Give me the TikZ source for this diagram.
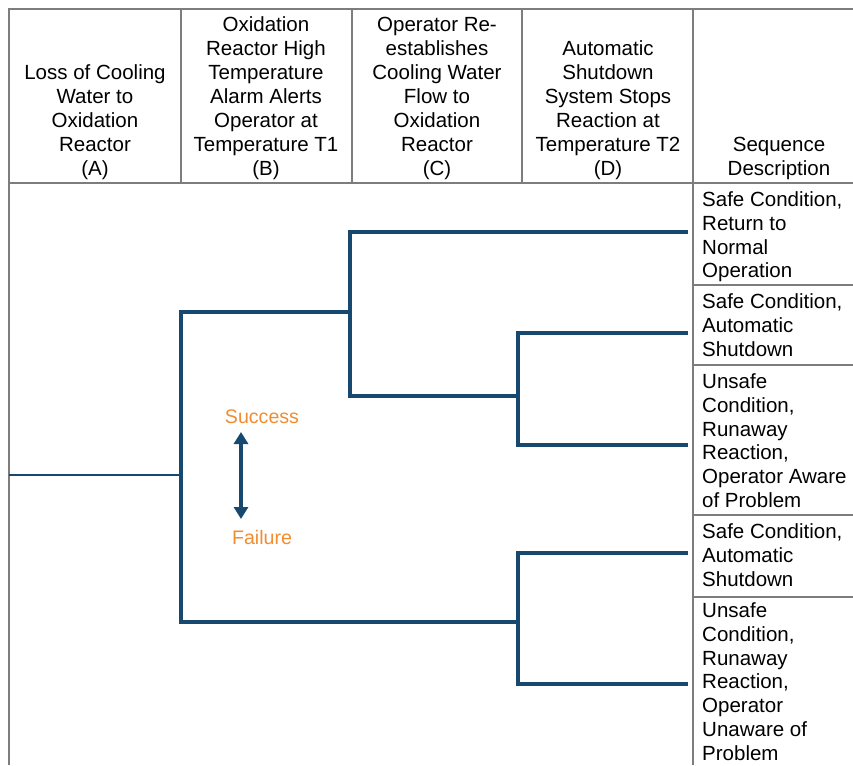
\documentclass[tikz,border=0pt]{standalone}
\usepackage{fontspec}
\setmainfont{Liberation Sans}
\usetikzlibrary{arrows.meta}

\definecolor{treeblue}{RGB}{22,72,112}
\definecolor{labelorange}{RGB}{242,140,48}
\definecolor{gridgray}{RGB}{125,125,125}

\begin{document}
\begin{tikzpicture}[x=1pt,y=-1pt,
    grid/.style={draw=gridgray,line width=1.3pt},
    branch/.style={draw=treeblue,line width=3.3pt,line join=miter},
    head/.style={anchor=south,align=center,inner sep=0pt,font=\fontsize{20.5}{23.9}\selectfont},
    seq/.style={anchor=north west,align=left,inner sep=0pt,font=\fontsize{20.5}{23.8}\selectfont},
    mark label/.style={inner sep=0pt,text=labelorange,font=\fontsize{19.6}{22}\selectfont}]

    \useasboundingbox (0,0) rectangle (853,765);

    % table frame
    \draw[grid] (9,765) -- (9,9) -- (853,9);
    \draw[grid] (9,183) -- (853,183);
    \foreach \x in {181,352,522}
        \draw[grid] (\x,9) -- (\x,183);
    \draw[grid] (693,9) -- (693,765);
    \foreach \y in {285,365,515,597}
        \draw[grid] (693,\y) -- (853,\y);

    % column headings
    \node[head] (headA) at (95,179.5) {Loss of Cooling\\Water to\\Oxidation\\Reactor\\(A)};
    \node[head] (headB) at (266,179.5) {Oxidation\\Reactor High\\Temperature\\Alarm Alerts\\Operator at\\Temperature T1\\(B)};
    \node[head] (headC) at (437,179.5) {Operator Re-\\establishes\\Cooling Water\\Flow to\\Oxidation\\Reactor\\(C)};
    \node[head] (headD) at (608,179.5) {Automatic\\Shutdown\\System Stops\\Reaction at\\Temperature T2\\(D)};
    \node[head] (headE) at (779,179.5) {Sequence\\Description};

    % sequence descriptions
    \node[seq] (seq1) at (702,191.5) {Safe Condition,\\Return to\\Normal\\Operation};
    \node[seq] (seq2) at (702,293.5) {Safe Condition,\\Automatic\\Shutdown};
    \node[seq] (seq3) at (702,373.5) {Unsafe\\Condition,\\Runaway\\Reaction,\\Operator Aware\\of Problem};
    \node[seq] (seq4) at (702,523.5) {Safe Condition,\\Automatic\\Shutdown};
    \node[seq] (seq5) at (702,602.5) {Unsafe\\Condition,\\Runaway\\Reaction,\\Operator\\Unaware of\\Problem};

    % event tree junctions and ends
    \coordinate (root) at (9,475);
    \coordinate (a) at (181,475);
    \coordinate (b1) at (350,312);
    \coordinate (b2) at (518,622);
    \coordinate (c2) at (518,396);
    \coordinate (e1) at (688,232);
    \coordinate (e2) at (688,333);
    \coordinate (e3) at (688,445);
    \coordinate (e4) at (688,553);
    \coordinate (e5) at (688,684);

    \draw[branch,line width=2.6pt] (root) -- (a);
    \draw[branch] (b1) -- (b1 -| a) -- (b2 -| a) -- (b2);
    \draw[branch] (e1) -- (e1 -| b1) -- (b1 |- c2) -- (c2);
    \draw[branch] (e2) -- (e2 -| c2) -- (e3 -| c2) -- (e3);
    \draw[branch] (e4) -- (e4 -| b2) -- (e5 -| b2) -- (e5);

    % success / failure key
    \node[mark label] (success) at (262,417) {Success};
    \node[mark label] (failure) at (262,537) {Failure};
    \coordinate (keyup) at (241,432);
    \coordinate (keydown) at (241,519);
    \draw[treeblue,line width=4pt,{Triangle[width=14pt,length=12pt]}-{Triangle[width=14pt,length=12pt]}] (keyup) -- (keydown);

\end{tikzpicture}
\end{document}
